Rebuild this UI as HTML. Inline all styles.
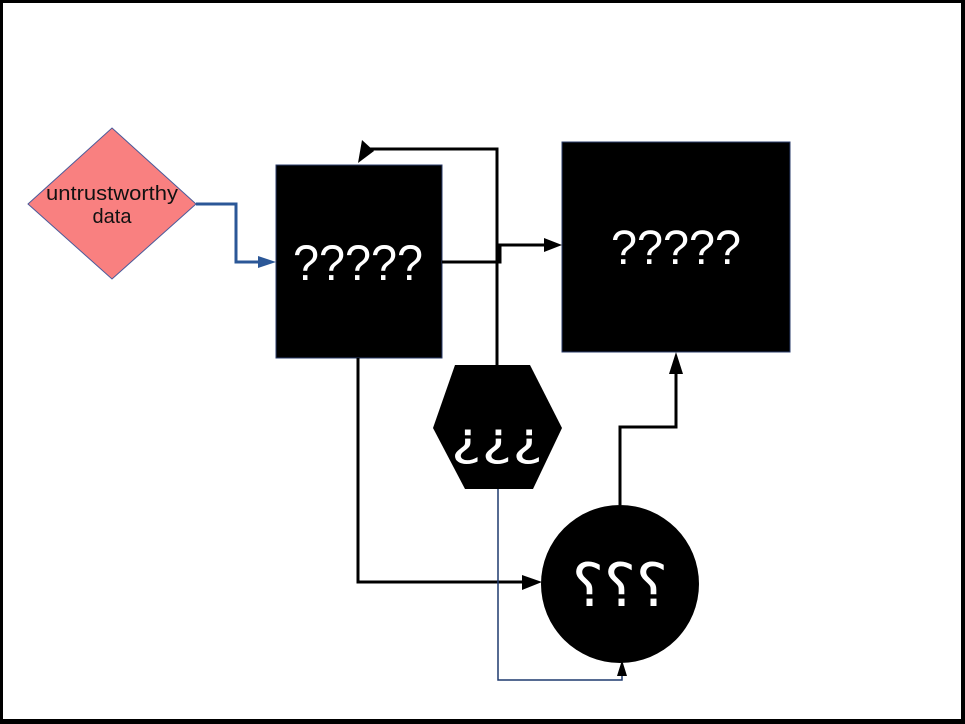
<!DOCTYPE html>
<html><head><style>
html,body{margin:0;padding:0;background:#fff;}
svg{display:block;}
</style></head><body>
<svg width="965" height="724" viewBox="0 0 965 724" xmlns="http://www.w3.org/2000/svg">
<rect x="0" y="0" width="965" height="724" fill="#000"/>
<rect x="3" y="3" width="958" height="716" fill="#fff"/>
<polygon points="112,128 196,204 112,279 28,204" fill="#f98080" stroke="#4a5a9a" stroke-width="1"/>
<text x="112" y="200" font-family="Liberation Sans, sans-serif" font-size="20" text-anchor="middle" fill="#111" textLength="132" lengthAdjust="spacingAndGlyphs">untrustworthy</text>
<text x="112" y="223" font-family="Liberation Sans, sans-serif" font-size="20" text-anchor="middle" fill="#111">data</text>
<polyline points="196,204 236,204 236,262 262,262" fill="none" stroke="#2b5797" stroke-width="3"/>
<polygon points="276,262 258,256 258,268" fill="#2b5797"/>
<rect x="276" y="165" width="166" height="193" fill="#000" stroke="#2a3b6a" stroke-width="1"/>
<text x="358" y="280" font-family="Liberation Sans, sans-serif" font-size="50" text-anchor="middle" fill="#fff" textLength="130" lengthAdjust="spacingAndGlyphs">?????</text>
<rect x="562" y="142" width="228" height="210" fill="#000" stroke="#2a3b6a" stroke-width="1"/>
<text x="676" y="264" font-family="Liberation Sans, sans-serif" font-size="48" text-anchor="middle" fill="#fff" textLength="130" lengthAdjust="spacingAndGlyphs">?????</text>
<polyline points="497,365 497,149 368,149" fill="none" stroke="#000" stroke-width="3"/>
<polygon points="358,163 362,140 374,151" fill="#000"/>
<polyline points="442,262 500,262 500,245 546,245" fill="none" stroke="#000" stroke-width="3"/>
<polygon points="562,245 544,238 544,252" fill="#000"/>
<polyline points="358,358 358,582 526,582" fill="none" stroke="#000" stroke-width="3"/>
<polygon points="542,582 522,575 522,590" fill="#000"/>
<polygon points="455,365 530,365 562,428 533,489 465,489 433,428" fill="#000"/>
<text x="497" y="455" font-family="DejaVu Sans, sans-serif" font-size="46" text-anchor="middle" fill="#fff" textLength="92" lengthAdjust="spacingAndGlyphs">¿¿¿</text>
<polyline points="498,489 498,680 622,680 622,672" fill="none" stroke="#1f3a6e" stroke-width="1.5"/>
<polygon points="622,660 617,676 627,676" fill="#000"/>
<circle cx="620" cy="584" r="79" fill="#000"/>
<text x="0" y="606" transform="translate(1240,0) scale(-1,1)" font-family="DejaVu Sans, sans-serif" font-size="60" text-anchor="middle" fill="#fff" textLength="96" lengthAdjust="spacingAndGlyphs"><tspan x="620">???</tspan></text>
<polyline points="620,505 620,427 676,427 676,372" fill="none" stroke="#000" stroke-width="3"/>
<polygon points="676,352 669,374 683,374" fill="#000"/>
</svg>
</body></html>
